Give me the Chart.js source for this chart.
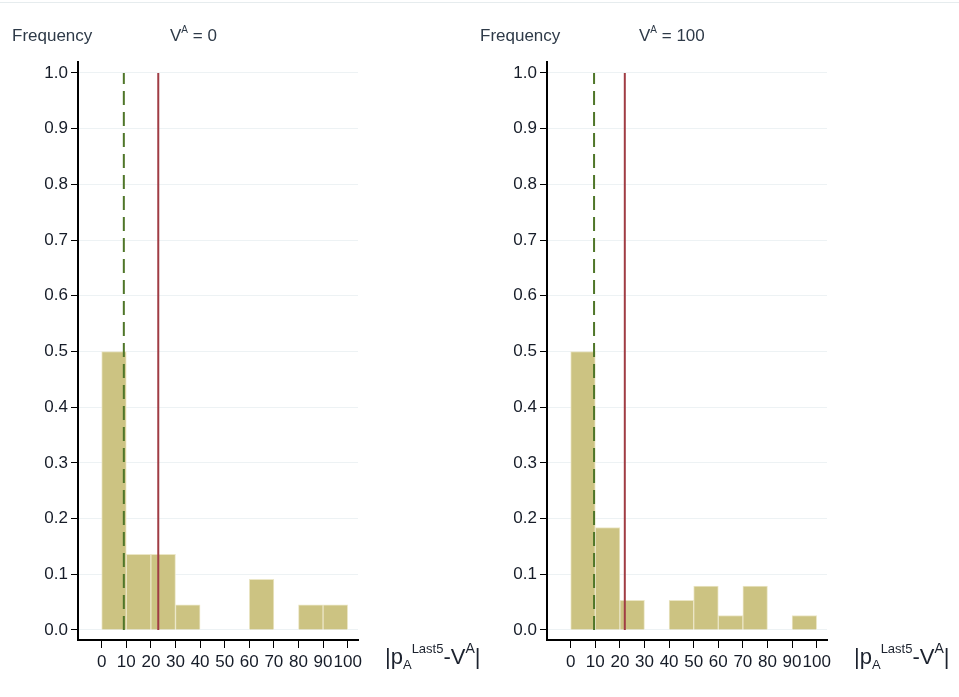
<!DOCTYPE html>
<html>
<head>
<meta charset="utf-8">
<script src="https://cdn.jsdelivr.net/npm/chart.js@4.4.1/dist/chart.umd.min.js"></script>
<style>
  html, body { margin: 0; padding: 0; background: #fff; }
  body { width: 959px; height: 697px; position: relative; overflow: hidden;
         font-family: Arial, "Liberation Sans", sans-serif; }
  .rule { position: absolute; left: 0; top: 2px; width: 959px; height: 1px; background: #e6ecee; }
  .panel { position: absolute; top: 0; width: 470px; height: 697px; }
  .panel canvas { position: absolute; left: 0; top: 0; }
  .ylab { position: absolute; top: 26px; font-size: 17px; color: #2e3a48; white-space: nowrap; }
  .ttl { position: absolute; top: 26px; font-size: 17px; color: #2e3a48; white-space: nowrap; }
  .ttl sup { font-size: 10px; position: relative; top: -2px; vertical-align: top; }
  .xlab { position: absolute; top: 644px; font-size: 22px; color: #1c222e; white-space: nowrap; }
  .xlab .sub { font-size: 13px; position: relative; top: 5px; }
  .xlab .sup { font-size: 13px; position: relative; top: -11px; }
  .xlab .sup2 { font-size: 14px; position: relative; top: -11px; }
</style>
</head>
<body>
<div class="rule"></div>

<div class="panel" style="left:0px">
  <canvas id="c0" width="470" height="697"></canvas>
  <div class="ylab" style="left:12px">Frequency</div>
  <div class="ttl" style="left:170px">V<sup>A</sup> = 0</div>
  <div class="xlab" style="left:385px">|p<span class="sub">A</span><span class="sup">Last5</span>-V<span class="sup2">A</span>|</div>
</div>

<div class="panel" style="left:469px">
  <canvas id="c1" width="470" height="697"></canvas>
  <div class="ylab" style="left:11px">Frequency</div>
  <div class="ttl" style="left:170px">V<sup>A</sup> = 100</div>
  <div class="xlab" style="left:385px">|p<span class="sub">A</span><span class="sup">Last5</span>-V<span class="sup2">A</span>|</div>
</div>

<script>
// Histogram bins (width 10) and their relative frequencies
const binCenters = [5, 15, 25, 35, 45, 55, 65, 75, 85, 95];
const freqV0   = [0.5, 0.136, 0.136, 0.045, 0, 0, 0.091, 0, 0.045, 0.045];
const freqV100 = [0.5, 0.184, 0.053, 0, 0.053, 0.079, 0.026, 0.079, 0, 0.026];

// Reference lines: dashed (median) and solid (mean)
const medianV0 = 9,   meanV0 = 23;
const medianV100 = 9.5, meanV100 = 22;

// Axis ticks
const xTicks = [0, 10, 20, 30, 40, 50, 60, 70, 80, 90, 100];
const yTicks = [0, 0.1, 0.2, 0.3, 0.4, 0.5, 0.6, 0.7, 0.8, 0.9, 1.0];

const BAR = '#ccc382', BAR_EDGE = '#ebe6c6';
const GREEN = '#4f7629', RED = '#a03c44';
const TICK_TXT = '#161c28';

function histogram(id, freqs, median, mean) {
  const bars = binCenters.map((c, i) => ({ x: c, y: freqs[i] > 0 ? freqs[i] : null }));
  new Chart(document.getElementById(id), {
    data: {
      datasets: [
        {
          type: 'bar', data: bars, backgroundColor: BAR, borderColor: BAR_EDGE,
          borderWidth: 1, barPercentage: 1, categoryPercentage: 1, order: 2
        },
        {
          type: 'line', data: [{ x: median, y: 0 }, { x: median, y: 1 }],
          borderColor: GREEN, borderWidth: 2, borderDash: [14, 7],
          pointRadius: 0, order: 1
        },
        {
          type: 'line', data: [{ x: mean, y: 0 }, { x: mean, y: 1 }],
          borderColor: RED, borderWidth: 2, pointRadius: 0, order: 0
        }
      ]
    },
    options: {
      responsive: false, animation: false, devicePixelRatio: 1,
      layout: { padding: { top: 62, right: 112, bottom: 0, left: 0 } },
      plugins: { legend: { display: false }, tooltip: { enabled: false } },
      scales: {
        x: {
          type: 'linear', min: -9.63, max: 104.2, offset: false,
          afterBuildTicks: s => { s.ticks = xTicks.map(v => ({ value: v })); },
          afterFit: s => { s.height = 57; },
          ticks: {
            autoSkip: false, maxRotation: 0, minRotation: 0, padding: 4,
            color: TICK_TXT, font: { family: 'Arial, "Liberation Sans"', size: 17 },
            callback: v => String(v)
          },
          grid: { offset: false, drawOnChartArea: false, tickLength: 8, tickColor: '#000', tickWidth: 1 },
          border: { color: '#000', width: 2 }
        },
        y: {
          type: 'linear', min: -0.018, max: 1.0197,
          afterBuildTicks: s => { s.ticks = yTicks.map(v => ({ value: v })); },
          afterFit: s => { s.width = 78; },
          ticks: {
            padding: 3, color: TICK_TXT,
            font: { family: 'Arial, "Liberation Sans"', size: 17 },
            callback: v => Number(v).toFixed(1)
          },
          grid: { color: '#edf2f4', lineWidth: 1, tickLength: 7, tickColor: '#000', tickWidth: 1 },
          border: { color: '#000', width: 2 }
        }
      }
    }
  });
}

histogram('c0', freqV0, medianV0, meanV0);
histogram('c1', freqV100, medianV100, meanV100);
</script>
</body>
</html>
